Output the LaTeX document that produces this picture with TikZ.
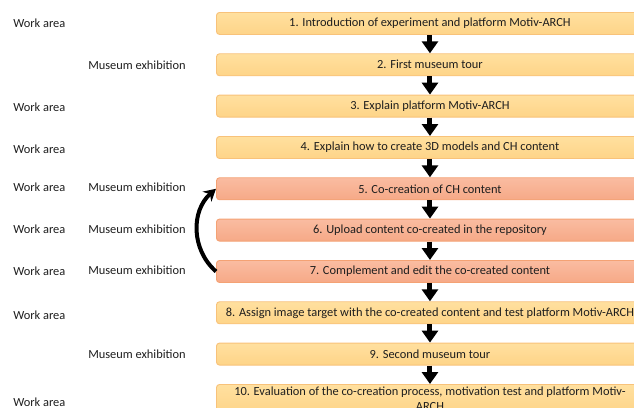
\documentclass[tikz,border=0pt]{standalone}
\usepackage{fontspec}
\setmainfont{Carlito}
\usetikzlibrary{arrows.meta}
\definecolor{ylTop}{HTML}{FFE09F}
\definecolor{ylBot}{HTML}{FED488}
\definecolor{ylBd}{HTML}{F8C27A}
\definecolor{rdTop}{HTML}{FABCA1}
\definecolor{rdBot}{HTML}{F6A987}
\definecolor{rdBd}{HTML}{F4A274}
\definecolor{txt}{HTML}{1E1E1E}
\begin{document}
\begin{tikzpicture}[x=0.75pt,y=-0.75pt,
  boxbase/.style={rounded corners=2.3pt, line width=0.7pt,
    minimum width=320.25pt, minimum height=16.5pt, inner sep=1pt,
    anchor=north west, text=txt, font=\fontsize{9.3}{11.2}\selectfont},
  ylbox/.style={boxbase, draw=ylBd, top color=ylTop, bottom color=ylBot},
  rdbox/.style={boxbase, draw=rdBd, top color=rdTop, bottom color=rdBot},
  lbl/.style={anchor=west, inner sep=0pt, text=txt, font=\fontsize{9.3}{11.2}\selectfont},
  downarr/.style={line width=3.75pt, -{Triangle[width=12pt,length=9pt]}},
  looparr/.style={line width=3pt, -{Stealth[width=10pt,length=9pt]}}
]
\useasboundingbox (0,0) rectangle (634,407);
\clip (0,0) rectangle (634,407);

\node[ylbox] (b1) at (216,12) {1. Introduction of experiment and platform Motiv-ARCH};
\node[ylbox] (b2) at (216,53.3) {2. First museum tour};
\node[ylbox] (b3) at (216,94.6) {3. Explain platform Motiv-ARCH};
\node[ylbox] (b4) at (216,136) {4. Explain how to create 3D models and CH content};
\node[rdbox] (b5) at (216,177.3) {5. Co-creation of CH content};
\node[rdbox] (b6) at (216,218.6) {6. Upload content co-created in the repository};
\node[rdbox] (b7) at (216,260) {7. Complement and edit the co-created content};
\node[ylbox] (b8) at (216,301.3) {8. Assign image target with the co-created content and test platform Motiv-ARCH};
\node[ylbox] (b9) at (216,342.6) {9. Second museum tour};
\node[ylbox, align=center, inner ysep=2pt] (b10) at (216,384) {10. Evaluation of the co-creation process, motivation test and platform Motiv-\\ARCH};

\foreach \a/\b in {b1/b2,b2/b3,b3/b4,b4/b5,b5/b6,b6/b7,b7/b8,b8/b9,b9/b10}
  \draw[downarr] (\a.south) -- (\b.north);

\draw[looparr] (b7.west) .. controls +(-25,-22) and +(-25,22) .. (b5.west);

\node[lbl] (w1) at (13,23) {Work area};
\node[lbl] (m2) at (88,65) {Museum exhibition};
\node[lbl] (w3) at (13,107) {Work area};
\node[lbl] (w4) at (13,149) {Work area};
\node[lbl] (w5) at (13,187.5) {Work area};
\node[lbl] (m5) at (88,187.5) {Museum exhibition};
\node[lbl] (w6) at (13,229) {Work area};
\node[lbl] (m6) at (88,229) {Museum exhibition};
\node[lbl] (w7) at (13,271) {Work area};
\node[lbl] (m7) at (88,270) {Museum exhibition};
\node[lbl] (w8) at (13,315) {Work area};
\node[lbl] (m9) at (88,354) {Museum exhibition};
\node[lbl] (w10) at (13,402) {Work area};
\end{tikzpicture}
\end{document}
